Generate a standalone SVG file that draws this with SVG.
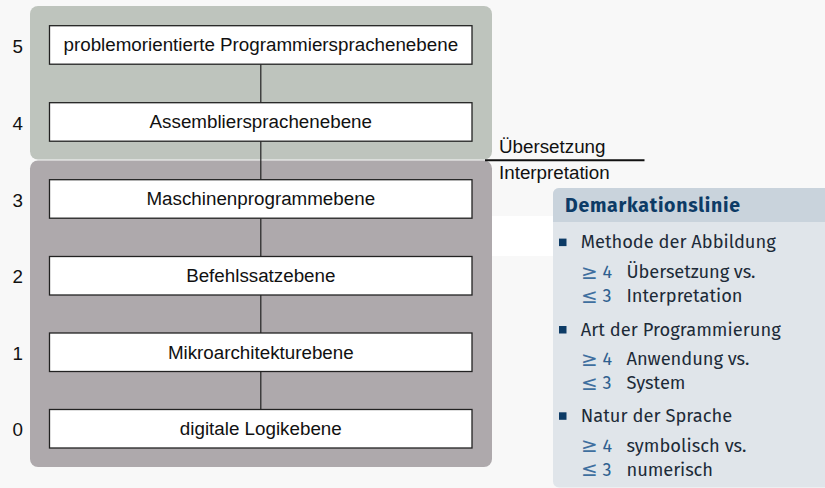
<svg xmlns="http://www.w3.org/2000/svg" width="825" height="488" viewBox="0 0 825 488">
<style>
.lvl{font-family:"Liberation Sans",Arial,sans-serif;font-size:18.8px;fill:#111}
.node rect{fill:#fff;stroke:#222;stroke-width:1.3}
.node text{font-family:"Liberation Sans",Arial,sans-serif;font-size:18.8px;fill:#111;text-anchor:middle}
.conn line{stroke:#222;stroke-width:1.2}
.side{font-family:"Liberation Sans",Arial,sans-serif;font-size:18.8px;fill:#111}
.bx{font-family:"Fira Sans","Noto Sans","Open Sans",sans-serif;font-size:18.3px;fill:#1d2b38}
.num{font-family:"Fira Sans","Noto Sans","Open Sans",sans-serif;font-size:18px;fill:#2f5f8f}
.sym{font-family:"DejaVu Sans","Noto Sans",sans-serif;font-size:20px;fill:#3f6f9f}
.ttl{font-family:"Fira Sans","Noto Sans","Open Sans",sans-serif;font-size:19.5px;font-weight:bold;fill:#0d3b66}
.bul{fill:#0d3b66}
</style>
<rect x="0" y="0" width="825" height="488" fill="#f8f8f8"/>
<rect x="492" y="216" width="70" height="40" fill="#ffffff"/>
<g id="groups">
<rect id="upper-group" x="30" y="6" width="462" height="153.5" rx="8" fill="#bec4bd"/>
<rect id="lower-group" x="30" y="160.5" width="462" height="306.5" rx="8" fill="#aea9ac"/>
</g>
<g id="level-numbers">
<text class="lvl" x="12.5" y="52.5">5</text>
<text class="lvl" x="12.5" y="129.5">4</text>
<text class="lvl" x="12.5" y="206.5">3</text>
<text class="lvl" x="12.5" y="283.2">2</text>
<text class="lvl" x="12.5" y="359.8">1</text>
<text class="lvl" x="12.5" y="436.2">0</text>
</g>
<g id="connectors" class="conn">
<line x1="260.8" y1="64.2" x2="260.8" y2="102.7"/>
<line x1="260.8" y1="141.2" x2="260.8" y2="179.7"/>
<line x1="260.8" y1="218.2" x2="260.8" y2="256.5"/>
<line x1="260.8" y1="295" x2="260.8" y2="333"/>
<line x1="260.8" y1="371.5" x2="260.8" y2="409.5"/>
</g>
<g id="node5" class="node"><rect x="49.5" y="25.7" width="422.5" height="38.5"/><text x="260.8" y="51.3">problemorientierte Programmiersprachenebene</text></g>
<g id="node4" class="node"><rect x="49.5" y="102.7" width="422.5" height="38.5"/><text x="260.8" y="128.3">Assembliersprachenebene</text></g>
<g id="node3" class="node"><rect x="49.5" y="179.7" width="422.5" height="38.5"/><text x="260.8" y="205.3">Maschinenprogrammebene</text></g>
<g id="node2" class="node"><rect x="49.5" y="256.5" width="422.5" height="38.5"/><text x="260.8" y="282.1">Befehlssatzebene</text></g>
<g id="node1" class="node"><rect x="49.5" y="333" width="422.5" height="38.5"/><text x="260.8" y="358.6">Mikroarchitekturebene</text></g>
<g id="node0" class="node"><rect x="49.5" y="409.5" width="422.5" height="38.5"/><text x="260.8" y="435.1">digitale Logikebene</text></g>
<g id="demarcation">
<line x1="485" y1="160.3" x2="644.5" y2="160.3" stroke="#111" stroke-width="2"/>
<text class="side" x="499" y="153.3">Übersetzung</text>
<text class="side" x="499" y="179.3">Interpretation</text>
</g>
<g id="infobox">
<rect x="553" y="188" width="290" height="299.5" rx="6" fill="#e0e5ea"/>
<path d="M553,222 V194 A6,6 0 0 1 559,188 H843 V222 Z" fill="#c9d3dc"/>
<text class="ttl" x="565" y="211.7" textLength="175">Demarkationslinie</text>
<rect class="bul" x="559" y="238.6" width="7.5" height="7.5"/>
<text class="bx" x="580.7" y="248.3" textLength="195">Methode der Abbildung</text>
<text class="sym" x="581" y="279">≥</text><text class="num" x="602.5" y="278.3">4</text>
<text class="bx" x="626.5" y="278.3" textLength="129">Übersetzung vs.</text>
<text class="sym" x="581" y="303">≤</text><text class="num" x="602.5" y="302.3">3</text>
<text class="bx" x="626.5" y="302.3" textLength="116">Interpretation</text>
<rect class="bul" x="559" y="326" width="7.5" height="7.5"/>
<text class="bx" x="580.7" y="335.7" textLength="200">Art der Programmierung</text>
<text class="sym" x="581" y="365.7">≥</text><text class="num" x="602.5" y="365">4</text>
<text class="bx" x="626.5" y="365" textLength="123">Anwendung vs.</text>
<text class="sym" x="581" y="389.7">≤</text><text class="num" x="602.5" y="389">3</text>
<text class="bx" x="626.5" y="389" textLength="59">System</text>
<rect class="bul" x="559" y="412.3" width="7.5" height="7.5"/>
<text class="bx" x="580.7" y="422" textLength="151.5">Natur der Sprache</text>
<text class="sym" x="581" y="452.4">≥</text><text class="num" x="602.5" y="451.7">4</text>
<text class="bx" x="626.5" y="451.7" textLength="120">symbolisch vs.</text>
<text class="sym" x="581" y="476.4">≤</text><text class="num" x="602.5" y="475.7">3</text>
<text class="bx" x="626.5" y="475.7" textLength="86.5">numerisch</text>
</g>
</svg>
